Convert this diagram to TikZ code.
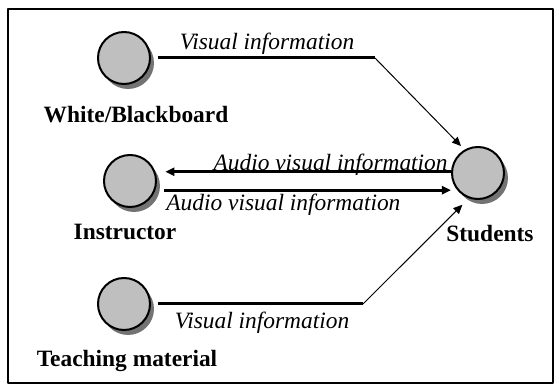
\documentclass[tikz,border=0pt]{standalone}
\usepackage{fontspec}
\setmainfont{Liberation Serif}
\usetikzlibrary{arrows.meta,shadows}

\begin{document}
\begin{tikzpicture}[x=0.5pt, y=-0.5pt, >={Triangle[length=4.5pt,width=4pt]}, line join=round,
	actor/.style={circle, draw, line width=1pt, fill=black!25, minimum size=26pt, inner sep=0pt,
		drop shadow={shadow xshift=2pt, shadow yshift=-2.5pt, fill=black!55, opacity=1}},
	lbl/.style={font=\fontsize{11.7}{14}\selectfont\bfseries, anchor=base, inner sep=0pt},
	info/.style={font=\fontsize{11.7}{14}\selectfont\itshape, inner sep=0pt},
	heavy/.style={line width=1.5pt},
	thin/.style={line width=0.5pt, ->}]
	\useasboundingbox (0,0) rectangle (554,385);
	% 1. Khung
	\draw[line width=0.8pt] (8,9) rectangle (553,383);
	
	% 2. Cac nut
	\node[actor] (wb) at (124,58) {};
	\node[actor] (ins) at (130,181) {};
	\node[actor] (stu) at (478,173) {};
	\node[actor] (tm) at (124,304) {};
	
	\node[lbl] (wbl) at (136,123) {White/Blackboard};
	\node[lbl] (insl) at (125,240) {Instructor};
	\node[lbl] (stul) at (490,242) {Students};
	\node[lbl] (tml) at (127,367) {Teaching material};
	
	% 3. Duong noi
	\coordinate (wbbend) at (375,58);
	\coordinate (tmbend) at (363,304);
	\draw[heavy, shorten <=3.5pt] (wb) -- (wbbend);
	\draw[thin, shorten >=2.5pt] (wbbend) -- (stu.120);
	\draw[heavy, shorten <=3.5pt] (tm) -- (tmbend);
	\draw[thin, shorten >=4.5pt] (tmbend) -- (stu.250);
	
	\draw[heavy, ->, shorten >=5pt] (stu.west |- ins.20) -- (ins.20);
	\draw[heavy, ->, shorten <=4.5pt] (ins.-20) -- (stu.west |- ins.-20);
	
	% 4. Nhan
	\node[info, anchor=base] (vis1) at (267,50) {Visual information};
	\node[info, anchor=base east] (avi1) at (448,171) {Audio visual information};
	\node[info, anchor=base west] (avi2) at (166,211) {Audio visual information};
	\node[info, anchor=base] (vis2) at (262,329) {Visual information};
\end{tikzpicture}
\end{document}
